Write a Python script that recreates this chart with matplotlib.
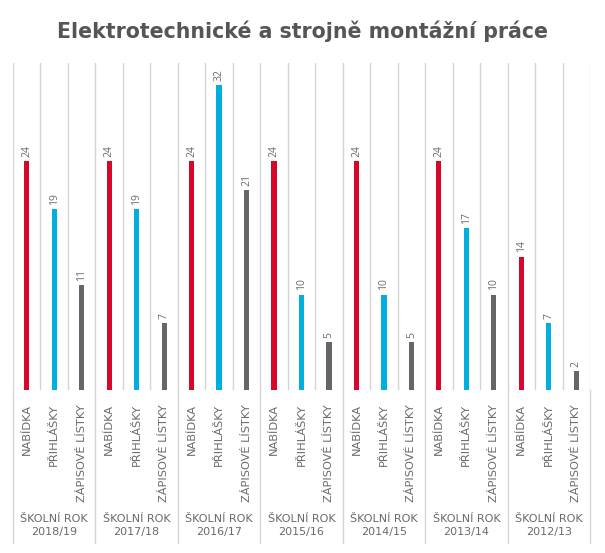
import matplotlib
matplotlib.use("Agg")
import matplotlib.pyplot as plt
from matplotlib.lines import Line2D

years = ["2018/19", "2017/18", "2016/17", "2015/16", "2014/15", "2013/14", "2012/13"]
series_names = ["NABÍDKA", "PŘIHLÁŠKY", "ZÁPISOVÉ LÍSTKY"]
nabidka = [24, 24, 24, 24, 24, 24, 14]
prihlasky = [19, 19, 32, 10, 10, 17, 7]
zapisove = [11, 7, 21, 5, 5, 10, 2]
colors = ["#d7062b", "#00aee0", "#666666"]
title = "Elektrotechnické a strojně montážní práce"

W, H = 605, 553
fig = plt.figure(figsize=(W / 100, H / 100), dpi=100)
fig.patch.set_facecolor("white")

left, right, top_px, base_px = 13, 590, 63, 390
ax = fig.add_axes([left / W, (H - base_px) / H, (right - left) / W, (base_px - top_px) / H])
ax.set_xlim(-0.5, 20.5)
ax.set_ylim(0, 34.3)
for s in ax.spines.values():
    s.set_visible(False)
ax.set_xticks([])
ax.set_yticks([])

grid_c = "#d4d4d4"
txt_c = "#6a6a6a"
font = "DejaVu Sans"

series = [nabidka, prihlasky, zapisove]
for g in range(len(years)):
    for si, vals in enumerate(series):
        x = g * 3 + si
        v = vals[g]
        ax.bar(x, v, width=0.19, color=colors[si], zorder=3)
        ax.annotate(str(v), (x, v), xytext=(0, 3), textcoords="offset points",
                    rotation=90, ha="center", va="bottom", fontsize=7.5,
                    color=txt_c, family="Open Sans")
        ax.annotate(series_names[si], (x, 0), xytext=(0, -10), textcoords="offset points",
                    rotation=90, ha="center", va="top", fontsize=8.2,
                    color=txt_c, family=font, annotation_clip=False)
    ax.annotate("ŠKOLNÍ ROK\n" + years[g], (g * 3 + 1, 0), xytext=(0, -89.5),
                textcoords="offset points", ha="center", va="top", fontsize=8,
                color=txt_c, family=font, linespacing=1.3, annotation_clip=False)

# vertical separators
for k in range(22):
    xb = -0.5 + k
    ax.axvline(xb, color=grid_c, lw=1, zorder=1)
    if k % 3 == 0:
        xf = (left + (right - left) * k / 21) / W
        fig.add_artist(Line2D([xf, xf], [(H - 543) / H, (H - base_px) / H],
                              color=grid_c, lw=1, transform=fig.transFigure))

fig.text(0.5, (H - 31) / H, title, ha="center", va="center", fontsize=14.8,
         fontweight="bold", color="#555555", family="DejaVu Sans")

fig.savefig("out.png", dpi=100, facecolor="white")
